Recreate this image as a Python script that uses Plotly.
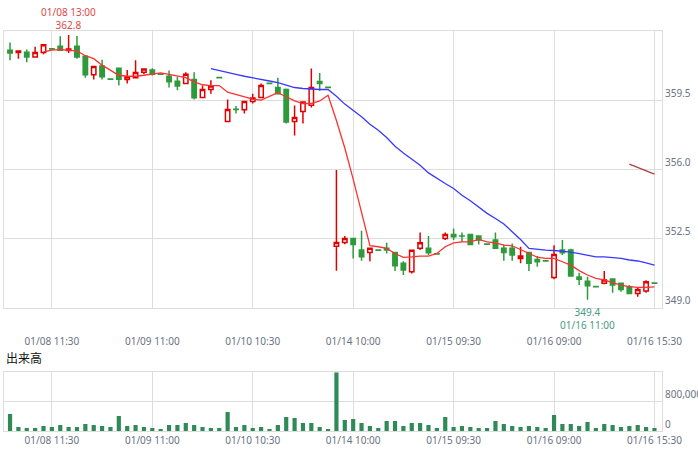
import plotly.graph_objects as go

# 30-minute bars, six sessions
days = ["01/08", "01/09", "01/10", "01/14", "01/15", "01/16"]
slots = ["09:00", "09:30", "10:00", "10:30", "11:00", "11:30",
         "12:30", "13:00", "13:30", "14:00", "14:30", "15:00", "15:30"]
times = [d + " " + s for d in days for s in slots]

opens = [362.02, 361.91, 361.93, 361.69, 361.91, 362.10, 362.23, 362.01, 362.23, 361.72,
         360.78, 361.23, 360.57, 361.12, 360.54, 360.64, 360.91, 361.02, 360.82, 360.71,
         360.46, 360.34, 360.54, 359.63, 360.04, 360.65, 358.42, 359.04, 359.02, 359.43,
         359.63, 360.35, 360.14, 360.04, 358.42, 358.92, 359.24, 360.44, 360.15, 352.11,
         352.30, 352.50, 351.91, 351.79, 351.91, 352.00, 351.79, 351.24, 350.82, 352.00,
         352.00, 351.72, 352.50, 352.70, 352.63, 352.70, 352.62, 352.22, 352.42, 352.00,
         352.00, 351.49, 351.79, 351.44, 351.37, 350.53, 351.91, 351.91, 350.55, 350.34,
         350.07, 350.23, 350.45, 350.23, 350.06, 349.72, 349.84, 350.24]
highs = [362.42, 361.99, 362.06, 362.20, 362.31, 362.10, 362.74, 362.80, 362.75, 361.72,
         361.20, 361.55, 360.57, 361.12, 361.03, 361.52, 361.08, 361.12, 360.82, 361.00,
         360.68, 360.91, 360.91, 360.24, 360.51, 360.65, 359.53, 359.20, 359.45, 359.83,
         360.34, 360.35, 360.64, 360.09, 359.23, 359.41, 361.10, 360.88, 360.15, 355.96,
         352.62, 352.50, 352.89, 352.00, 351.91, 352.28, 351.79, 351.35, 351.90, 352.80,
         352.62, 351.72, 352.80, 353.01, 352.80, 352.70, 352.62, 352.22, 352.80, 352.20,
         352.25, 352.08, 351.83, 351.61, 351.37, 352.16, 352.42, 351.98, 350.77, 350.56,
         350.07, 350.85, 350.45, 350.23, 350.14, 350.02, 350.39, 350.24]
lows = [361.52, 361.60, 361.42, 361.65, 361.82, 362.09, 362.02, 361.89, 361.59, 360.64,
        360.54, 360.54, 360.56, 360.24, 360.34, 360.62, 360.81, 360.75, 360.81, 360.14,
        360.00, 360.32, 359.53, 359.60, 359.83, 360.64, 358.40, 358.82, 358.82, 359.33,
        359.60, 360.34, 359.83, 358.32, 357.71, 358.32, 359.13, 359.97, 360.14, 350.86,
        352.21, 351.49, 351.37, 351.35, 351.90, 351.74, 350.85, 350.65, 350.73, 351.91,
        351.66, 351.71, 352.42, 352.42, 352.33, 352.20, 352.20, 352.21, 352.00, 351.37,
        351.37, 351.24, 350.85, 351.07, 351.36, 350.43, 351.66, 350.60, 350.14, 349.40,
        350.06, 350.18, 349.75, 349.80, 349.72, 349.55, 349.75, 350.23]
closes = [361.89, 361.99, 361.69, 361.91, 362.31, 362.09, 362.02, 362.09, 361.69, 360.78,
          361.20, 360.68, 360.56, 360.56, 360.69, 360.90, 361.08, 360.81, 360.81, 360.43,
          360.22, 360.81, 359.62, 360.04, 360.22, 360.64, 359.03, 359.03, 359.43, 359.61,
          360.24, 360.34, 359.83, 358.40, 358.62, 359.41, 360.14, 360.34, 360.14, 352.30,
          352.50, 352.20, 351.57, 352.00, 351.90, 351.91, 351.12, 350.90, 351.90, 352.28,
          351.78, 351.71, 352.70, 352.59, 352.62, 352.20, 352.42, 352.21, 352.00, 351.79,
          351.66, 351.61, 351.24, 351.32, 351.36, 351.69, 351.78, 350.60, 350.43, 350.11,
          350.06, 350.40, 350.14, 349.92, 349.72, 349.92, 350.31, 350.23]
volumes = [453000, 107000, 80000, 80000, 133000, 107000, 160000, 107000, 107000, 187000,
           160000, 133000, 107000, 400000, 133000, 160000, 107000, 80000, 53000, 160000,
           160000, 213000, 160000, 107000, 80000, 80000, 507000, 107000, 160000, 80000,
           107000, 53000, 160000, 373000, 347000, 213000, 213000, 107000, 53000, 1565000,
           293000, 320000, 213000, 133000, 80000, 267000, 267000, 133000, 213000, 213000,
           160000, 80000, 373000, 107000, 133000, 107000, 80000, 80000, 267000, 187000,
           133000, 107000, 133000, 107000, 80000, 427000, 187000, 187000, 133000, 240000,
           80000, 187000, 160000, 107000, 133000, 160000, 107000, 80000]

# moving averages as drawn (5, 25, 75 bars)
ma5 = [361.94, 362.03, 362.06, 362.03, 361.99, 361.75, 361.60, 361.27, 361.02, 360.76,
       360.71, 360.71, 360.76, 360.81, 360.88, 360.81, 360.71, 360.64, 360.43, 360.28,
       360.24, 360.24, 359.90, 359.78, 359.67, 359.55, 359.50, 359.67, 359.88, 359.67,
       359.46, 359.33, 359.33, 359.46, 359.75, 358.47, 357.08, 355.50, 353.78, 352.14,
       352.08, 352.00, 351.74, 351.54, 351.57, 351.61, 351.61, 351.74, 352.08, 352.28,
       352.33, 352.33, 352.45, 352.33, 352.28, 352.16, 352.13, 351.94, 351.72, 351.55,
       351.49, 351.49, 351.32, 351.15, 350.87, 350.65, 350.48, 350.40, 350.26, 350.14,
       350.06, 350.02, 350.02, 350.05]
ma25 = [361.10, 361.01, 360.93, 360.81, 360.71, 360.64, 360.56, 360.47, 360.39, 360.26,
        360.14, 360.09, 360.05, 360.04, 360.04, 359.70, 359.30, 359.00, 358.66, 358.28,
        357.98, 357.61, 357.17, 356.83, 356.50, 356.21, 355.82, 355.54, 355.28, 355.03,
        354.69, 354.41, 354.07, 353.77, 353.51, 353.23, 352.84, 352.45, 352.00, 351.95,
        351.91, 351.89, 351.86, 351.81, 351.73, 351.66, 351.57, 351.57, 351.54, 351.49,
        351.41, 351.36, 351.27, 351.15]
ma75 = [356.26, 356.09, 355.92, 355.76]

tick_labels = ["01/08 11:30", "01/09 11:00", "01/10 10:30", "01/14 10:00",
               "01/15 09:30", "01/16 09:00", "01/16 15:30"]
price_ticks = [349.0, 352.5, 356.0, 359.5]
volume_ticks = [0, 800000]

font = "Noto Sans, Liberation Sans, sans-serif"
grid = "#dddddd"

fig = go.Figure()

fig.add_trace(go.Candlestick(
    x=times, open=opens, high=highs, low=lows, close=closes,
    increasing=dict(line=dict(color="#e00000", width=1.5), fillcolor="white"),
    decreasing=dict(line=dict(color="#2f9a3b", width=1.5), fillcolor="#2f9a3b"),
    xaxis="x", yaxis="y", hoverinfo="skip"))

fig.add_trace(go.Scatter(x=times[4:], y=ma5, mode="lines",
                         line=dict(color="#ff3030", width=1.3), xaxis="x", yaxis="y"))
fig.add_trace(go.Scatter(x=times[24:], y=ma25, mode="lines",
                         line=dict(color="#3838ff", width=1.3), xaxis="x", yaxis="y"))
fig.add_trace(go.Scatter(x=times[74:], y=ma75, mode="lines",
                         line=dict(color="#b04040", width=1.3), xaxis="x", yaxis="y"))

fig.add_trace(go.Bar(x=times, y=volumes, marker=dict(color="#2e8b57", line=dict(width=0)),
                     xaxis="x2", yaxis="y2"))

# high / low markers
hi_i = highs.index(max(highs))
lo_i = lows.index(min(lows))
fig.add_annotation(x=times[hi_i], y=highs[hi_i], xref="x", yref="y",
                   text=times[hi_i] + "<br>" + f"{highs[hi_i]:.1f}",
                   showarrow=False, yanchor="bottom", yshift=1,
                   font=dict(family=font, size=10, color="#e04848"))
fig.add_annotation(x=times[lo_i], y=lows[lo_i], xref="x", yref="y",
                   text=f"{lows[lo_i]:.1f}" + "<br>" + times[lo_i],
                   showarrow=False, yanchor="top", yshift=-3,
                   font=dict(family=font, size=10, color="#4a9a82"))

fig.add_annotation(x=0, y=0.185, xref="paper", yref="paper", text="出来高",
                   showarrow=False, xanchor="left", yanchor="middle",
                   font=dict(family="Noto Sans CJK JP", size=12, color="#111111"))

axis_common = dict(showgrid=True, gridcolor=grid, gridwidth=1, zeroline=False,
                   showline=True, linecolor=grid, linewidth=1, mirror=True,
                   automargin=False,
                   tickfont=dict(family=font, size=10, color="#6a7282"))

fig.update_layout(
    width=698, height=455,
    margin=dict(l=4, r=36, t=31, b=24),
    paper_bgcolor="white", plot_bgcolor="white",
    showlegend=False,
    boxgap=0.25, bargap=0.5,
    xaxis=dict(type="category", range=[-0.72, 77.9], anchor="y",
               tickvals=tick_labels, ticktext=tick_labels,
               rangeslider=dict(visible=False), ticks="",
               ticklabelstandoff=24, **axis_common),
    yaxis=dict(domain=[0.3065, 1], range=[348.96, 363.0], side="right",
               tickvals=price_ticks, tickformat=".1f",
               ticklabelposition="outside top", **axis_common),
    xaxis2=dict(type="category", range=[-0.72, 77.9], anchor="y2", matches="x",
                tickvals=tick_labels, ticktext=tick_labels, ticks="", **axis_common),
    yaxis2=dict(domain=[0, 0.1466], range=[0, 1565000], side="right",
                tickvals=volume_ticks, tickformat=",d",
                ticklabelposition="outside top", **axis_common),
)

# page body margin would shift the chart; drop it
fig.write_html("out.html", config={"displayModeBar": False},
               post_script="document.body.style.margin='0';")
